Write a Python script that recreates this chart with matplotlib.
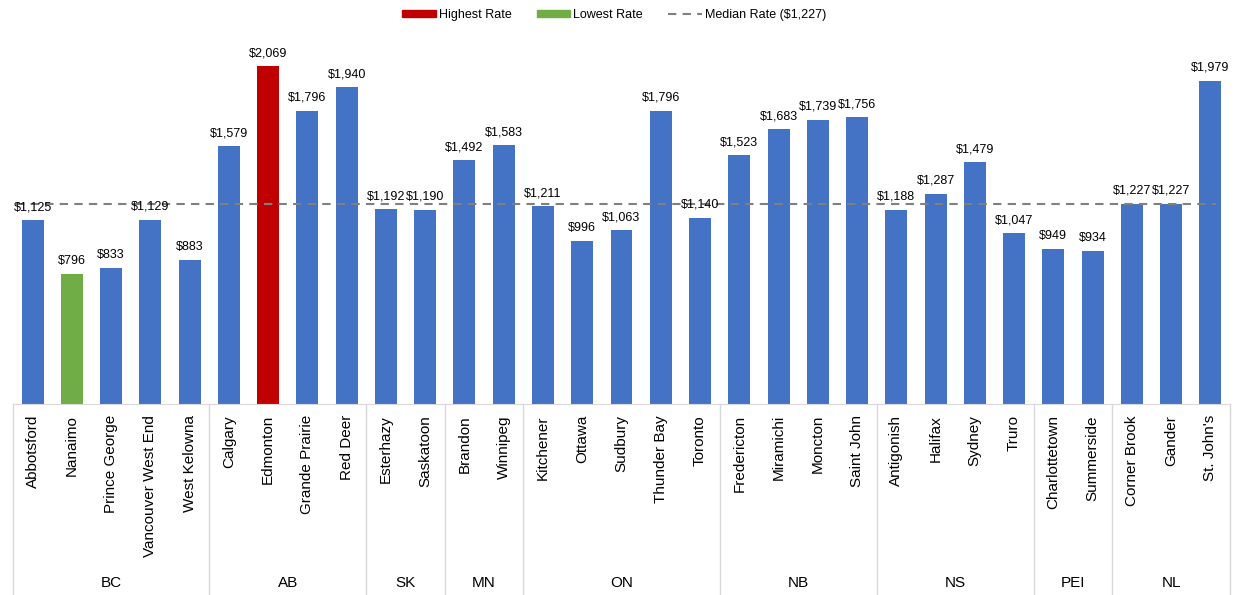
import matplotlib
matplotlib.use("Agg")
import matplotlib.pyplot as plt
from matplotlib.patches import Patch
from matplotlib.lines import Line2D

plt.rcParams['font.family'] = ['Liberation Sans', 'DejaVu Sans']

cities = ["Abbotsford", "Nanaimo", "Prince George", "Vancouver West End", "West Kelowna",
          "Calgary", "Edmonton", "Grande Prairie", "Red Deer",
          "Esterhazy", "Saskatoon",
          "Brandon", "Winnipeg",
          "Kitchener", "Ottawa", "Sudbury", "Thunder Bay", "Toronto",
          "Fredericton", "Miramichi", "Moncton", "Saint John",
          "Antigonish", "Halifax", "Sydney", "Truro",
          "Charlottetown", "Summerside",
          "Corner Brook", "Gander", "St. John's"]
rates = [1125, 796, 833, 1129, 883,
         1579, 2069, 1796, 1940,
         1192, 1190,
         1492, 1583,
         1211, 996, 1063, 1796, 1140,
         1523, 1683, 1739, 1756,
         1188, 1287, 1479, 1047,
         949, 934,
         1227, 1227, 1979]
provinces = ["BC", "AB", "SK", "MN", "ON", "NB", "NS", "PEI", "NL"]
prov_counts = [5, 4, 2, 2, 5, 4, 4, 2, 3]
median_rate = 1227

blue = "#4472C4"
red = "#C00000"
green = "#70AD47"
gray_line = "#808080"
sep_color = "#D9D9D9"

W, H = 1253, 595
fig = plt.figure(figsize=(W / 100, H / 100), dpi=100)
x0, x1 = 13, 1230
y_base = 404
px_per_unit = (404 - 66) / 2069
ymax = 2250
top_px = y_base - ymax * px_per_unit
ax = fig.add_axes([x0 / W, (H - y_base) / H, (x1 - x0) / W, (y_base - top_px) / H])

n = len(cities)
hi = rates.index(max(rates))
lo = rates.index(min(rates))
colors = [blue] * n
colors[hi] = red
colors[lo] = green

xs = list(range(n))
ax.bar(xs, rates, width=0.56, color=colors, zorder=2)
ax.hlines(median_rate, -0.42, n - 1 + 0.15, colors=gray_line, linestyles=(0, (4, 3)),
          linewidth=1.5, zorder=3)

for x, v in zip(xs, rates):
    ax.annotate(f"${v:,}", (x, v), xytext=(0, 5), textcoords="offset points",
                ha="center", va="bottom", fontsize=9, color="black", zorder=4)

ax.set_xlim(-0.5, n - 0.5)
ax.set_ylim(0, ymax)
ax.set_yticks([])
ax.set_xticks(xs)
ax.set_xticklabels(cities, rotation=90, fontsize=11, va="top")
ax.tick_params(axis="x", length=0, pad=8)
for s in ["top", "right", "left"]:
    ax.spines[s].set_visible(False)
ax.spines["bottom"].set_color(sep_color)

# group separators and province labels
trans = ax.get_xaxis_transform()
bottom_frac = -(H - y_base) / (y_base - top_px)
bounds = [0]
for c in prov_counts:
    bounds.append(bounds[-1] + c)
for b in bounds:
    ax.plot([b - 0.5, b - 0.5], [0, bottom_frac], transform=trans, color=sep_color,
            linewidth=1, clip_on=False)
label_y = -(583 - y_base) / (y_base - top_px)
for i, p in enumerate(provinces):
    mid = (bounds[i] + bounds[i + 1] - 1) / 2
    ax.text(mid, label_y, p, transform=trans, ha="center", va="center", fontsize=11)

handles = [Patch(color=red, label="Highest Rate"),
           Patch(color=green, label="Lowest Rate"),
           Line2D([0], [0], color=gray_line, linestyle=(0, (4, 3)), linewidth=1.5,
                  label=f"Median Rate (${median_rate:,})")]
fig.legend(handles=handles, loc="center", bbox_to_anchor=(614 / W, 1 - 15 / H), ncol=3,
           frameon=False, fontsize=9, handlelength=2.7, handleheight=0.55,
           columnspacing=2.0, handletextpad=0.25)

fig.savefig("out.png", dpi=100)
